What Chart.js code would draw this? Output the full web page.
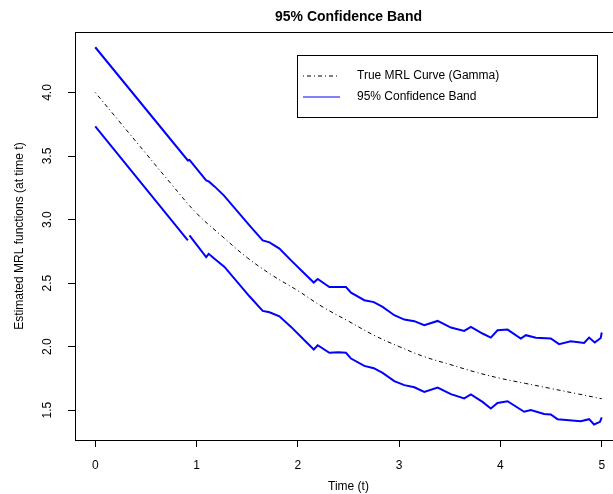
<!DOCTYPE html>
<html lang="en">
<head>
<meta charset="UTF-8">
<title>95% Confidence Band</title>
<script src="https://cdn.jsdelivr.net/npm/chart.js"></script>
<style>
  html, body { margin: 0; padding: 0; overflow: hidden; background: #fff; }
  #wrap { width: 640px; height: 494px; }
</style>
</head>
<body>
<div id="wrap"><canvas id="mrlChart" width="640" height="494"></canvas></div>
<script>
// values
const trueT = [0, 0.25, 0.5, 0.75, 1.0, 1.25, 1.5, 1.75, 2.0, 2.25, 2.5, 2.75, 3.0, 3.25, 3.5, 3.75, 4.0, 4.25, 4.5, 4.75, 5.0];
const trueMrl = [4.0, 3.76, 3.52, 3.28, 3.05, 2.87, 2.70, 2.56, 2.44, 2.31, 2.20, 2.09, 2.00, 1.92, 1.86, 1.80, 1.75, 1.71, 1.67, 1.63, 1.59];

const upperT = [0, 0.914, 0.93, 0.96, 1.095, 1.12, 1.177, 1.269, 1.522, 1.653, 1.72, 1.818, 1.933, 2.065, 2.157, 2.196,
  2.311, 2.4, 2.475, 2.525, 2.656, 2.75, 2.837, 2.952, 3.051, 3.15, 3.248, 3.38, 3.511, 3.642, 3.708, 3.823, 3.905,
  3.971, 4.07, 4.201, 4.251, 4.35, 4.497, 4.579, 4.694, 4.826, 4.875, 4.931, 4.99, 5.0];
const upperBand = [4.356, 3.465, 3.47, 3.44, 3.308, 3.30, 3.261, 3.19, 2.954, 2.836, 2.82, 2.771, 2.679, 2.575, 2.504, 2.532,
  2.469, 2.47, 2.469, 2.425, 2.365, 2.35, 2.312, 2.247, 2.213, 2.20, 2.168, 2.202, 2.150, 2.124, 2.155, 2.103, 2.071,
  2.129, 2.134, 2.064, 2.090, 2.07, 2.064, 2.019, 2.042, 2.029, 2.071, 2.032, 2.068, 2.111];

// null = the break in the lower band near t = 0.92
const lowerT = [0, 0.914, 0.92, 0.93, 1.095, 1.12, 1.177, 1.276, 1.522, 1.653, 1.72, 1.818, 1.933, 2.065, 2.157, 2.196,
  2.311, 2.4, 2.475, 2.525, 2.656, 2.75, 2.837, 2.952, 3.051, 3.15, 3.248, 3.38, 3.511, 3.642, 3.708, 3.823, 3.905,
  3.971, 4.07, 4.234, 4.3, 4.431, 4.497, 4.563, 4.793, 4.875, 4.924, 4.983, 5.0];
const lowerBand = [3.733, 2.836, null, 2.876, 2.705, 2.73, 2.692, 2.627, 2.396, 2.281, 2.27, 2.239, 2.155, 2.050, 1.977, 2.011,
  1.951, 1.955, 1.951, 1.906, 1.848, 1.83, 1.793, 1.728, 1.697, 1.68, 1.644, 1.678, 1.626, 1.592, 1.623, 1.565, 1.513,
  1.557, 1.57, 1.487, 1.50, 1.469, 1.466, 1.429, 1.413, 1.429, 1.387, 1.408, 1.443];

const xTicks = [0, 1, 2, 3, 4, 5];
const yTicks = [1.5, 2.0, 2.5, 3.0, 3.5, 4.0];
const legendLabels = ['True MRL Curve (Gamma)', '95% Confidence Band'];

const FONT = "'Liberation Sans', Arial, sans-serif";

function pts(xs, ys) {
    return xs.map((x, i) => ({ x: x, y: ys[i] }));
}

// title, rotated y labels, axis titles, top/right frame and legend (R style)
const rDecor = {
    id: 'rDecor',
    afterDraw(chart) {
        const ctx = chart.ctx;
        const a = chart.chartArea;
        const ys = chart.scales.y;
        ctx.save();

        // frame top + right
        ctx.strokeStyle = '#000';
        ctx.lineWidth = 1;
        ctx.beginPath();
        ctx.moveTo(Math.round(a.left) + 0.5, Math.round(a.top) + 0.5);
        ctx.lineTo(Math.round(a.right) + 0.5, Math.round(a.top) + 0.5);
        ctx.lineTo(Math.round(a.right) + 0.5, Math.round(a.bottom) + 0.5);
        ctx.stroke();

        // title
        ctx.fillStyle = '#000';
        ctx.font = 'bold 14px ' + FONT;
        ctx.textAlign = 'center';
        ctx.textBaseline = 'middle';
        ctx.fillText('95% Confidence Band', (a.left + a.right) / 2, 17);

        // x title
        ctx.font = '12px ' + FONT;
        ctx.fillText('Time (t)', (a.left + a.right) / 2, 487);

        // y tick labels, rotated like R
        yTicks.forEach(v => {
            ctx.save();
            ctx.translate(48, ys.getPixelForValue(v));
            ctx.rotate(-Math.PI / 2);
            ctx.fillText(v.toFixed(1), 0, 0);
            ctx.restore();
        });

        // y title
        ctx.save();
        ctx.translate(20, (a.top + a.bottom) / 2);
        ctx.rotate(-Math.PI / 2);
        ctx.fillText('Estimated MRL functions (at time t)', 0, 0);
        ctx.restore();

        // legend box
        ctx.strokeStyle = '#000';
        ctx.lineWidth = 1;
        ctx.strokeRect(297.5, 55.5, 300, 62);
        const ds = chart.data.datasets;
        [ds[0], ds[1]].forEach((d, i) => {
            const y = 76 + i * 21;
            ctx.beginPath();
            ctx.strokeStyle = d.borderColor;
            ctx.lineWidth = 1;
            ctx.setLineDash(d.borderDash || []);
            ctx.moveTo(303, y);
            ctx.lineTo(340, y);
            ctx.stroke();
            ctx.setLineDash([]);
            ctx.textAlign = 'left';
            ctx.fillStyle = '#000';
            ctx.fillText(legendLabels[i], 357, y);
        });
        ctx.restore();
    }
};

const ctx = document.getElementById('mrlChart').getContext('2d');
new Chart(ctx, {
    type: 'line',
    data: {
        datasets: [
            {
                label: legendLabels[0],
                data: pts(trueT, trueMrl),
                borderColor: '#000000',
                borderWidth: 1,
                borderDash: [1, 3, 4, 3],
                pointRadius: 0,
                tension: 0.4
            },
            {
                label: legendLabels[1],
                data: pts(upperT, upperBand),
                borderColor: '#0000FF',
                borderWidth: 2,
                pointRadius: 0,
                tension: 0
            },
            {
                label: 'lower',
                data: pts(lowerT, lowerBand),
                borderColor: '#0000FF',
                borderWidth: 2,
                pointRadius: 0,
                spanGaps: false,
                tension: 0
            }
        ]
    },
    options: {
        responsive: false,
        animation: false,
        layout: { padding: { top: 32, right: 18, left: 0, bottom: 0 } },
        plugins: {
            legend: { display: false },
            tooltip: { enabled: false }
        },
        scales: {
            x: {
                type: 'linear',
                min: -0.2,
                max: 5.2,
                afterBuildTicks: s => { s.ticks = xTicks.map(v => ({ value: v })); },
                afterFit: s => { s.height = 54; },
                grid: { drawOnChartArea: false, drawTicks: true, tickLength: 7, color: '#000' },
                border: { display: true, color: '#000', width: 1 },
                ticks: {
                    color: '#000',
                    padding: 11,
                    maxRotation: 0,
                    font: { family: FONT, size: 12 },
                    callback: v => String(v)
                }
            },
            y: {
                type: 'linear',
                min: 1.265,
                max: 4.476,
                afterBuildTicks: s => { s.ticks = yTicks.map(v => ({ value: v })); },
                afterFit: s => { s.width = 75; },
                grid: { drawOnChartArea: false, drawTicks: true, tickLength: 7, color: '#000' },
                border: { display: true, color: '#000', width: 1 },
                ticks: { color: 'rgba(0,0,0,0)', font: { family: FONT, size: 12 } }
            }
        }
    },
    plugins: [rDecor]
});
</script>
</body>
</html>
